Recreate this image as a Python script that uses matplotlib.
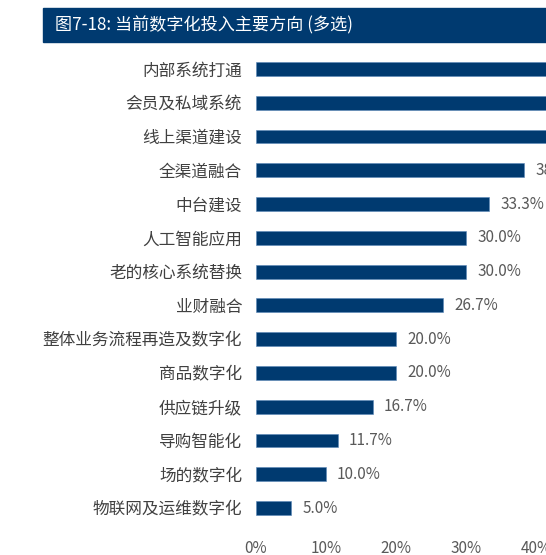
import matplotlib
matplotlib.use('Agg')
import matplotlib.pyplot as plt
from matplotlib.patches import Rectangle

plt.rcParams['font.family'] = ['Noto Sans CJK SC', 'DejaVu Sans']

title = '图7-18: 当前数字化投入主要方向 (多选)'
categories = ['内部系统打通', '会员及私域系统', '线上渠道建设', '全渠道融合', '中台建设',
              '人工智能应用', '老的核心系统替换', '业财融合', '整体业务流程再造及数字化',
              '商品数字化', '供应链升级', '导购智能化', '场的数字化', '物联网及运维数字化']
# top three bars run off the right edge of the picture, values estimated
values = [46.7, 43.3, 41.7, 38.3, 33.3, 30.0, 30.0, 26.7, 20.0, 20.0, 16.7, 11.7, 10.0, 5.0]
xticks = [0, 10, 20, 30, 40]

bar_color = '#003a70'
W, H = 546, 555

fig = plt.figure(figsize=(W / 100, H / 100), dpi=100)

# title banner
fig.patches.append(Rectangle((43 / W, 1 - 42 / H), 1 - 43 / W, 34 / H,
                             transform=fig.transFigure, color=bar_color, zorder=0))
fig.text(55 / W, 1 - 25 / H, title, color='white', fontsize=12.3, va='center', ha='left')

ax = fig.add_axes([256 / W, 1 - 525 / H, 1 - 256 / W, (525 - 52) / H])
y = list(range(len(categories)))
ax.barh(y, values, height=0.41, color=bar_color, edgecolor='#5b87b8', linewidth=0.4)
for yi, v in zip(y, values):
    ax.annotate('%.1f%%' % v, (v, yi), xytext=(8, 0), textcoords='offset points',
                va='center', ha='left', fontsize=11, color='#595959',
                fontweight='light', annotation_clip=False, clip_on=True)

ax.set_xlim(0, 290 / 7.0)
ax.set_ylim(len(categories) - 0.5, -0.5)
ax.set_yticks(y)
ax.set_yticklabels(categories, fontsize=12, color='#404040')
ax.set_xticks(xticks)
ax.set_xticklabels(['%d%%' % t for t in xticks], fontsize=11, color='#595959',
                   fontweight='light')
ax.tick_params(axis='y', length=0, pad=10)
ax.tick_params(axis='x', length=0, pad=11)
for s in ax.spines.values():
    s.set_visible(False)

fig.savefig('out.png', dpi=100)
